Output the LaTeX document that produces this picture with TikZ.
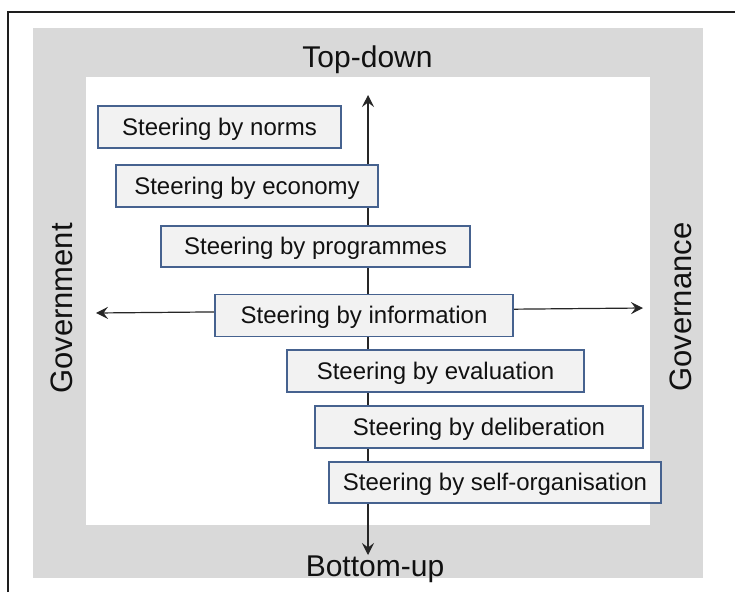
\documentclass[tikz,border=0pt]{standalone}
\usepackage{fontspec}
\setmainfont{Liberation Sans}
\usetikzlibrary{arrows.meta}
\definecolor{panelgray}{HTML}{D9D9D9}
\definecolor{boxfill}{HTML}{F2F2F2}
\definecolor{boxline}{HTML}{46628F}
\definecolor{axisline}{HTML}{262626}
\definecolor{framecol}{HTML}{1E1E1E}
\definecolor{textcol}{HTML}{111111}
\tikzset{
  stepbox/.style={draw=boxline, fill=boxfill, line width=1.3pt, rectangle,
    inner sep=0pt, text=textcol, text height=18pt, text depth=2pt,
    font=\fontsize{24}{28}\selectfont},
  axislabel/.style={text=textcol, inner sep=0pt, anchor=base, font=\fontsize{30}{34}\selectfont},
  sidelabel/.style={text=textcol, inner sep=0pt, anchor=base, rotate=90, font=\fontsize{31}{35}\selectfont},
  axis/.style={draw=axisline, line width=1.2pt, {Stealth[length=12pt,width=12pt,inset=4.5pt]}-{Stealth[length=12pt,width=12pt,inset=4.5pt]}}
}
\begin{document}
\begin{tikzpicture}[x=1pt,y=-1pt]
\useasboundingbox (0,0) rectangle (735,592);
% background panels
\fill[white] (0,0) rectangle (735,592);
\fill[panelgray] (33,28) rectangle (703,578);
\fill[white] (86,77) rectangle (650,525);
% outer frame (left and top edges visible)
\draw[framecol, line width=1.5pt] (8,592) -- (8,12) -- (735,12);
% axis end points
\coordinate (toptip) at (368,95);
\coordinate (bottomtip) at (368,555);
\coordinate (lefttip) at (96,313);
\coordinate (righttip) at (643,308);
\draw[axis] (bottomtip) -- (toptip);
\draw[axis] (lefttip) -- (righttip);
% steering boxes
\node[stepbox, minimum width=243pt, minimum height=42pt] (norms) at (219.5,127) {Steering by norms};
\node[stepbox, minimum width=262pt, minimum height=42pt] (economy) at (247,186) {Steering by economy};
\node[stepbox, minimum width=309pt, minimum height=41pt] (programmes) at (315.5,246.5) {Steering by programmes};
\node[stepbox, minimum width=298pt, minimum height=42pt] (information) at (364,315.5) {Steering by information};
\node[stepbox, minimum width=297pt, minimum height=42pt] (evaluation) at (435.5,371) {Steering by evaluation};
\node[stepbox, minimum width=328pt, minimum height=42pt] (deliberation) at (479,427) {Steering by deliberation};
\node[stepbox, minimum width=332pt, minimum height=41pt] (selforg) at (495,482.5) {Steering by self-organisation};
% axis labels
\node[axislabel] (topdown) at (367.5,67) {Top-down};
\node[axislabel] (bottomup) at (375,576) {Bottom-up};
\node[sidelabel] (government) at (72.5,308.5) {Government};
\node[sidelabel] (governance) at (691.5,307) {Governance};
\end{tikzpicture}
\end{document}
